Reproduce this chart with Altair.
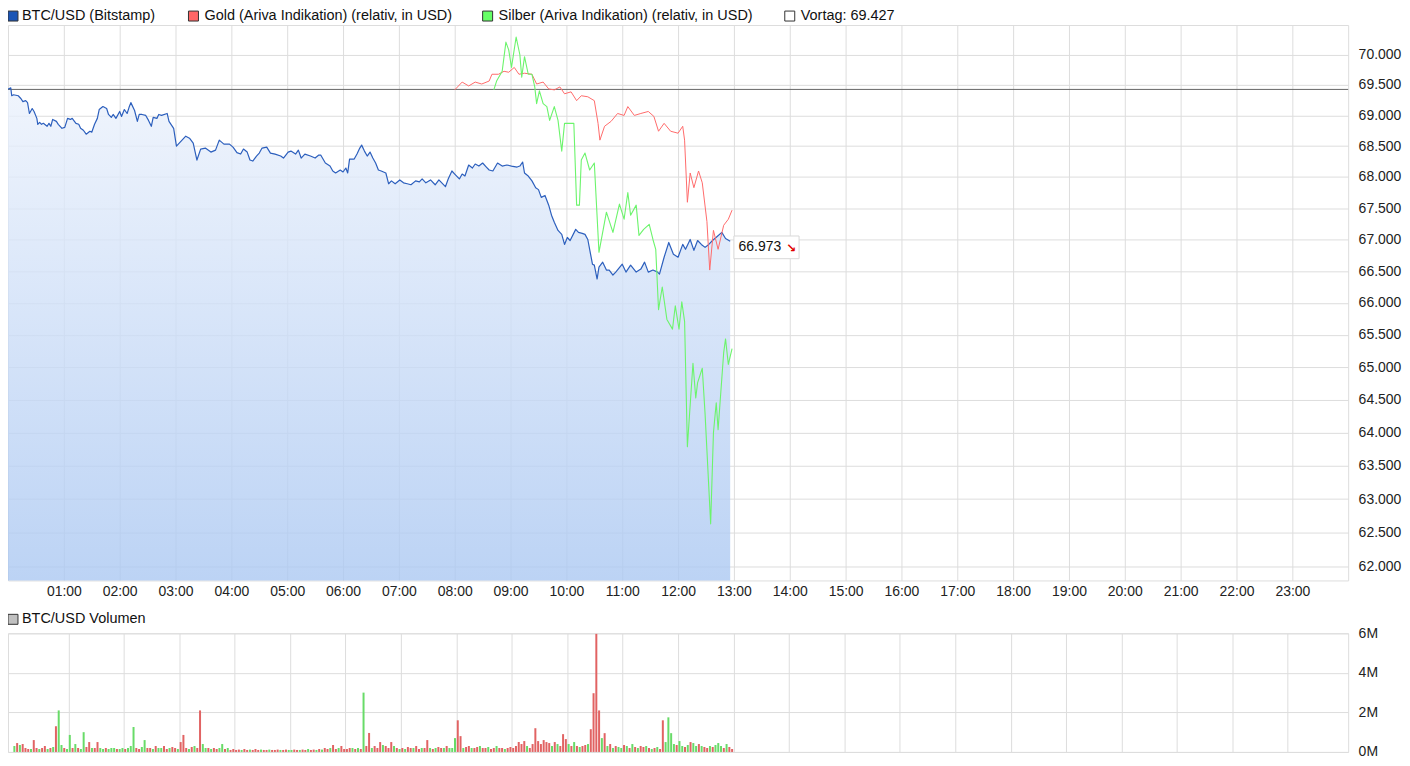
import altair as alt
import pandas as pd

# ---------------- data ----------------
# minutes after midnight / price in USD
btc_min = [0, 3, 4, 6, 11, 14, 16, 19, 21, 23,
           26, 28, 31, 32, 34, 36, 38, 42, 44, 46,
           48, 52, 54, 58, 61, 64, 67, 69, 73, 76,
           78, 81, 84, 88, 90, 93, 96, 98, 102, 106,
           108, 111, 113, 116, 120, 122, 125, 128, 130, 132,
           136, 139, 141, 144, 148, 151, 154, 156, 160, 162,
           165, 171, 173, 178, 181, 186, 191, 195, 199, 203,
           207, 212, 218, 223, 227, 232, 238, 242, 246, 250,
           253, 257, 260, 263, 267, 270, 273, 278, 282, 287,
           293, 296, 301, 304, 309, 312, 315, 319, 325, 330,
           334, 336, 341, 346, 349, 352, 357, 360, 363, 365,
           367, 372, 375, 378, 380, 383, 386, 389, 392, 395,
           398, 401, 406, 409, 412, 416, 421, 425, 429, 433,
           438, 442, 445, 449, 454, 459, 463, 470, 473, 477,
           480, 485, 488, 491, 495, 499, 502, 506, 510, 514,
           517, 521, 526, 531, 536, 541, 547, 550, 553, 555,
           559, 563, 567, 570, 573, 577, 581, 584, 587, 591,
           595, 598, 601, 604, 610, 613, 617, 620, 623, 628,
           630, 633, 635, 639, 643, 646, 650, 653, 660, 664,
           669, 675, 680, 684, 688, 693, 698, 700, 705, 710,
           715, 720, 725, 728, 733, 737, 741, 745, 749, 753,
           757, 762, 767, 771, 776]
btc_val = [69431, 69452, 69323, 69339, 69323, 69274, 69226, 69242, 69210, 69032,
           69113, 69065, 68952, 68855, 68887, 68855, 68871, 68823, 68871, 68823,
           68935, 68903, 68855, 68790, 68806, 68952, 68935, 68952, 68871, 68855,
           68790, 68758, 68694, 68742, 68726, 68855, 68952, 69097, 69145, 69113,
           69016, 68968, 69016, 68952, 69065, 68984, 69097, 69032, 69129, 69210,
           69081, 68903, 69016, 69016, 69000, 68919, 68823, 68968, 68952, 69016,
           69000, 69032, 68903, 68790, 68500, 68581, 68661, 68629, 68548, 68274,
           68452, 68468, 68403, 68435, 68597, 68532, 68532, 68480, 68395, 68371,
           68452, 68403, 68274, 68258, 68339, 68387, 68468, 68484, 68387, 68371,
           68339, 68306, 68403, 68419, 68371, 68435, 68306, 68371, 68339, 68306,
           68355, 68355, 68226, 68177, 68097, 68065, 68113, 68081, 68145, 68065,
           68290, 68290, 68371, 68468, 68516, 68419, 68339, 68403, 68306, 68226,
           68113, 68097, 68065, 67891, 67938, 67891, 67953, 67906, 67891, 67875,
           67938, 67922, 67969, 67906, 67953, 67875, 67953, 67844, 67969, 68097,
           68048, 67969, 68048, 68016, 68194, 68145, 68210, 68177, 68226, 68161,
           68113, 68097, 68226, 68177, 68194, 68177, 68161, 68177, 68242, 68065,
           68016, 67938, 67828, 67797, 67672, 67703, 67547, 67387, 67274, 67145,
           67081, 66922, 67032, 66984, 67161, 67113, 67097, 67081, 67000, 66609,
           66594, 66375, 66563, 66641, 66516, 66516, 66438, 66484, 66609, 66484,
           66594, 66484, 66531, 66641, 66484, 66516, 66484, 66453, 66719, 66953,
           66766, 66719, 66922, 66844, 67000, 66828, 66984, 66922, 66875, 66922,
           66984, 67048, 67113, 67016, 66973]

gold_min = [480, 488, 495, 502, 509, 517, 520, 527, 533, 538,
            544, 549, 555, 563, 568, 575, 581, 587, 593, 598,
            605, 611, 616, 623, 630, 634, 636, 641, 648, 655,
            662, 666, 673, 680, 688, 694, 699, 705, 712, 720,
            725, 727, 730, 733, 737, 742, 746, 751, 754, 758,
            763, 769, 774, 778]
gold_val = [69419, 69548, 69484, 69548, 69516, 69565, 69677, 69677, 69726, 69710,
            69790, 69677, 69694, 69677, 69516, 69548, 69435, 69419, 69468, 69355,
            69387, 69242, 69323, 69306, 69242, 68871, 68597, 68823, 68903, 69032,
            69000, 69145, 69000, 69032, 69065, 68984, 68742, 68871, 68742, 68710,
            68823, 68597, 67594, 68065, 67828, 68097, 67906, 67285, 66516, 67145,
            66844, 67226, 67323, 67468]

silver_min = [522, 525, 531, 535, 538, 541, 546, 550, 552, 555,
              559, 563, 566, 568, 571, 575, 579, 582, 587, 591,
              595, 598, 608, 611, 614, 616, 620, 625, 630, 635,
              643, 650, 657, 662, 666, 669, 675, 678, 683, 689,
              693, 696, 699, 703, 708, 714, 717, 721, 724, 727,
              730, 736, 739, 741, 746, 749, 755, 758, 761, 763,
              769, 771, 774, 778]
silver_val = [69419, 69565, 69726, 70210, 70082, 69790, 70295, 70000, 69629, 69968,
              69677, 69677, 69468, 69194, 69403, 69194, 69145, 68919, 69145, 68919,
              68419, 68871, 68871, 67548, 67548, 68274, 68387, 68113, 68226, 66797,
              67435, 67113, 67564, 67323, 67750, 67387, 67548, 67065, 67161, 67242,
              67000, 66844, 65894, 66250, 65742, 65591, 65955, 65591, 66016, 65712,
              63788, 65062, 64530, 64765, 64985, 64290, 62632, 64000, 64455, 64045,
              65226, 65439, 65045, 65288]

vortag = 69427

# volume in millions, 3-minute bars, one row per hour (00..12)
vol_by_hour = [
    [0.3, 0.45, 0.35, 0.4, 0.2, 0.15, 0.15, 0.6, 0.2, 0.15, 0.2, 0.3, 0.15, 0.2, 0.25, 1.3, 2.1, 0.35, 0.2, 0.15],
    [0.86, 0.2, 0.4, 0.2, 0.15, 1.0, 0.25, 0.5, 0.2, 0.2, 0.5, 0.2, 0.15, 0.2, 0.15, 0.2, 0.2, 0.15, 0.15, 0.2],
    [0.15, 0.2, 0.3, 1.26, 0.2, 0.15, 0.25, 0.6, 0.2, 0.2, 0.15, 0.3, 0.2, 0.2, 0.3, 0.15, 0.2, 0.25, 0.2, 0.15],
    [0.5, 0.86, 0.2, 0.15, 0.25, 0.3, 0.2, 2.1, 0.4, 0.2, 0.2, 0.15, 0.2, 0.15, 0.2, 0.4, 0.15, 0.2, 0.1, 0.15],
    [0.1, 0.12, 0.1, 0.15, 0.1, 0.12, 0.1, 0.15, 0.1, 0.12, 0.1, 0.1, 0.12, 0.1, 0.1, 0.12, 0.1, 0.1, 0.12, 0.1],
    [0.1, 0.12, 0.1, 0.1, 0.12, 0.1, 0.15, 0.1, 0.12, 0.1, 0.15, 0.12, 0.2, 0.15, 0.2, 0.35, 0.15, 0.2, 0.3, 0.15],
    [0.15, 0.2, 0.2, 0.15, 0.2, 0.15, 3.0, 0.3, 0.96, 0.2, 0.3, 0.2, 0.5, 0.35, 0.3, 0.2, 0.5, 0.3, 0.2, 0.15],
    [0.2, 0.15, 0.25, 0.2, 0.2, 0.3, 0.15, 0.2, 0.2, 0.6, 0.2, 0.15, 0.2, 0.25, 0.2, 0.2, 0.3, 0.2, 0.2, 0.7],
    [1.6, 0.8, 0.2, 0.25, 0.3, 0.2, 0.2, 0.25, 0.3, 0.2, 0.2, 0.25, 0.15, 0.2, 0.3, 0.2, 0.2, 0.15, 0.2, 0.25],
    [0.2, 0.3, 0.5, 0.4, 0.55, 0.3, 0.2, 0.4, 1.2, 0.55, 0.4, 0.6, 0.5, 0.45, 0.3, 0.5, 0.4, 0.3, 0.9, 0.65],
    [0.4, 0.3, 0.5, 0.3, 0.25, 0.3, 0.35, 0.4, 1.15, 2.97, 5.97, 2.1, 0.7, 0.95, 0.3, 0.4, 0.2, 0.3, 0.25, 0.2],
    [0.35, 0.3, 0.2, 0.4, 0.25, 0.2, 0.3, 0.25, 0.3, 0.2, 0.15, 0.2, 0.25, 0.15, 1.6, 0.5, 1.75, 0.95, 0.4, 0.35],
    [0.55, 0.3, 0.25, 0.35, 0.5, 0.45, 0.3, 0.4, 0.3, 0.25, 0.2, 0.3, 0.25, 0.35, 0.45, 0.3, 0.2, 0.4, 0.25, 0.15],
]
# r = falling (red), g = rising (green)
dir_by_hour = [
    "grgrrrgrrgrrgrgrggrg",
    "grgrggrrgrrggrgggrgg",
    "rgggrrggrrgrggrrgrrg",
    "rrrgrgrrggrgrrggrgrr",
    "rrgrrgrrrgrrgrrrgrrg",
    "grrgrrgrrgrgrrgrrgrr",
    "rrgrgrgrrgrrrgrrrgrg",
    "rgrrgrrgrrgrgrrgrggg",
    "rrgrrgrrgrrgrrgrrgrr",
    "rrrrrgrrrrrrrrgrgrrr",
    "grgrgrrgrrrrgrgrgrgg",
    "rgrgrgrrgrgrgrrggggr",
    "ggrgrggrgrrgrgggrgrr",
]
vol_m, vol_v, vol_d = [], [], []
for h, (vals, dirs) in enumerate(zip(vol_by_hour, dir_by_hour)):
    for i, (v, d) in enumerate(zip(vals, dirs)):
        vol_m.append(h * 60 + i * 3 + 1.5)
        vol_v.append(v)
        vol_d.append(d)

hour_ticks = [60, 120, 180, 240, 300, 360, 420, 480, 540, 600, 660, 720,
              780, 840, 900, 960, 1020, 1080, 1140, 1200, 1260, 1320, 1380]
price_ticks = [62000, 62500, 63000, 63500, 64000, 64500, 65000, 65500, 66000,
               66500, 67000, 67500, 68000, 68500, 69000, 69500, 70000]
vol_ticks = [0, 2, 4, 6]

# ---------------- styling ----------------
FONT = "Liberation Sans"
LEG_FS = 14.5
W, H_TOP, H_VOL = 1344, 557, 119
Y_MIN, Y_MAX = 61797, 70495
BLUE = "#2c5fbd"
RED_LINE = "#ff6b6b"
GREEN_LINE = "#6cf46c"
BAR_RED = "#e16363"
BAR_GREEN = "#68db68"

btc = pd.DataFrame({"m": btc_min, "v": btc_val})
gold = pd.DataFrame({"m": gold_min, "v": gold_val})
silver = pd.DataFrame({"m": silver_min, "v": silver_val})
vol = pd.DataFrame({"m": vol_m, "v": vol_v, "d": vol_d})
one = pd.DataFrame({"k": [0]})

x_scale = alt.Scale(domain=[0, 1440], nice=False, zero=False)
x_top = alt.X("m:Q", scale=x_scale, title=None,
              axis=alt.Axis(values=hour_ticks, grid=True, labelPadding=4,
                            labelExpr="(datum.value < 600 ? '0' : '') + floor(datum.value / 60) + ':00'"))
y_top = alt.Y("v:Q", title=None,
              scale=alt.Scale(type="log", domain=[Y_MIN, Y_MAX], nice=False),
              axis=alt.Axis(orient="right", values=price_ticks, grid=True, labelPadding=10,
                            labelExpr="replace(format(datum.value, ',d'), ',', '.')"))

gradient = alt.Gradient(
    gradient="linear",
    stops=[alt.GradientStop(color="#ecf2fc", offset=0),
           alt.GradientStop(color="#abc8f2", offset=1)],
    x1=1, x2=1, y1=0, y2=1,
)

area = alt.Chart(btc).mark_area(color=gradient, fillOpacity=0.8).encode(
    x=x_top, y=y_top, y2=alt.datum(Y_MIN))
rule = alt.Chart(pd.DataFrame({"v": [vortag]})).mark_rule(color="#666666", strokeWidth=1).encode(
    y=alt.Y("v:Q"))
btc_line = alt.Chart(btc).mark_line(color=BLUE, strokeWidth=1.2, strokeJoin="round").encode(
    x="m:Q", y="v:Q")
gold_line = alt.Chart(gold).mark_line(color=RED_LINE, strokeWidth=1, strokeJoin="round").encode(
    x="m:Q", y="v:Q")
silver_line = alt.Chart(silver).mark_line(color=GREEN_LINE, strokeWidth=1.1, strokeJoin="round").encode(
    x="m:Q", y="v:Q")

last_label = f"{btc_val[-1]:,}".replace(",", ".")
label_box = alt.Chart(one).mark_rect(fill="white", stroke="#d8d8d8", strokeWidth=1).encode(
    x=alt.datum(780), x2=alt.datum(850), y=alt.datum(67056), y2=alt.datum(66696))
label_txt = alt.Chart(one).mark_text(align="left", baseline="middle", font=FONT, fontSize=14,
                                     color="#111111").encode(
    x=alt.datum(785), y=alt.datum(66876), text=alt.value(last_label))
label_arrow = alt.Chart(one).mark_text(align="left", baseline="middle", font="DejaVu Sans",
                                       fontSize=12, fontWeight="bold", color="#e00000").encode(
    x=alt.datum(836), y=alt.datum(66860), text=alt.value("↘"))


def square(x, y, fill):
    return alt.Chart(one).mark_rect(fill=fill, stroke="#333333", strokeWidth=1).encode(
        x=alt.value(x), x2=alt.value(x + 10), y=alt.value(y - 5), y2=alt.value(y + 5))


def text(s, x, y):
    return alt.Chart(one).mark_text(align="left", baseline="middle", font=FONT, fontSize=LEG_FS,
                                    color="#111111").encode(
        x=alt.value(x), y=alt.value(y), text=alt.value(s))


LY = -9
legend_top = [
    square(0, LY, "#1b55b5"), text("BTC/USD (Bitstamp)", 14, LY),
    square(181, LY, "#ff6666"), text("Gold (Ariva Indikation) (relativ, in USD)", 197, LY),
    square(476, LY, "#66ff66"), text("Silber (Ariva Indikation) (relativ, in USD)", 492, LY),
    square(779, LY, "#ffffff"), text(f"Vortag: {vortag:,}".replace(",", "."), 795, LY),
]

top = alt.layer(area, rule, btc_line, gold_line, silver_line,
                label_box, label_txt, label_arrow, *legend_top).properties(width=W, height=H_TOP)

bars = alt.Chart(vol).mark_bar(size=2).encode(
    x=alt.X("m:Q", scale=x_scale, title=None,
            axis=alt.Axis(values=hour_ticks, grid=True, labels=False)),
    y=alt.Y("v:Q", title=None, scale=alt.Scale(domain=[0, 6], nice=False),
            axis=alt.Axis(orient="right", values=vol_ticks, grid=True, labelPadding=10,
                          labelExpr="datum.value + 'M'")),
    color=alt.Color("d:N", scale=alt.Scale(domain=["r", "g"], range=[BAR_RED, BAR_GREEN]), legend=None),
)
VY = -14
bottom = alt.layer(bars, square(0, VY, "#c0c0c0"), text("BTC/USD Volumen", 14, VY)).properties(
    width=W, height=H_VOL)

chart = alt.vconcat(top, bottom, spacing=53, bounds="flush",
                    padding={"left": -2, "top": -2, "right": 0, "bottom": 0}).configure_view(
    stroke="#dddddd", strokeWidth=1
).configure_axis(
    labelFont=FONT, labelFontSize=14, labelColor="#222222", gridColor="#dddddd",
    gridWidth=1, domain=False, ticks=False,
).properties(background="white")

chart.save("out.html", embed_options={"renderer": "svg", "actions": False})
